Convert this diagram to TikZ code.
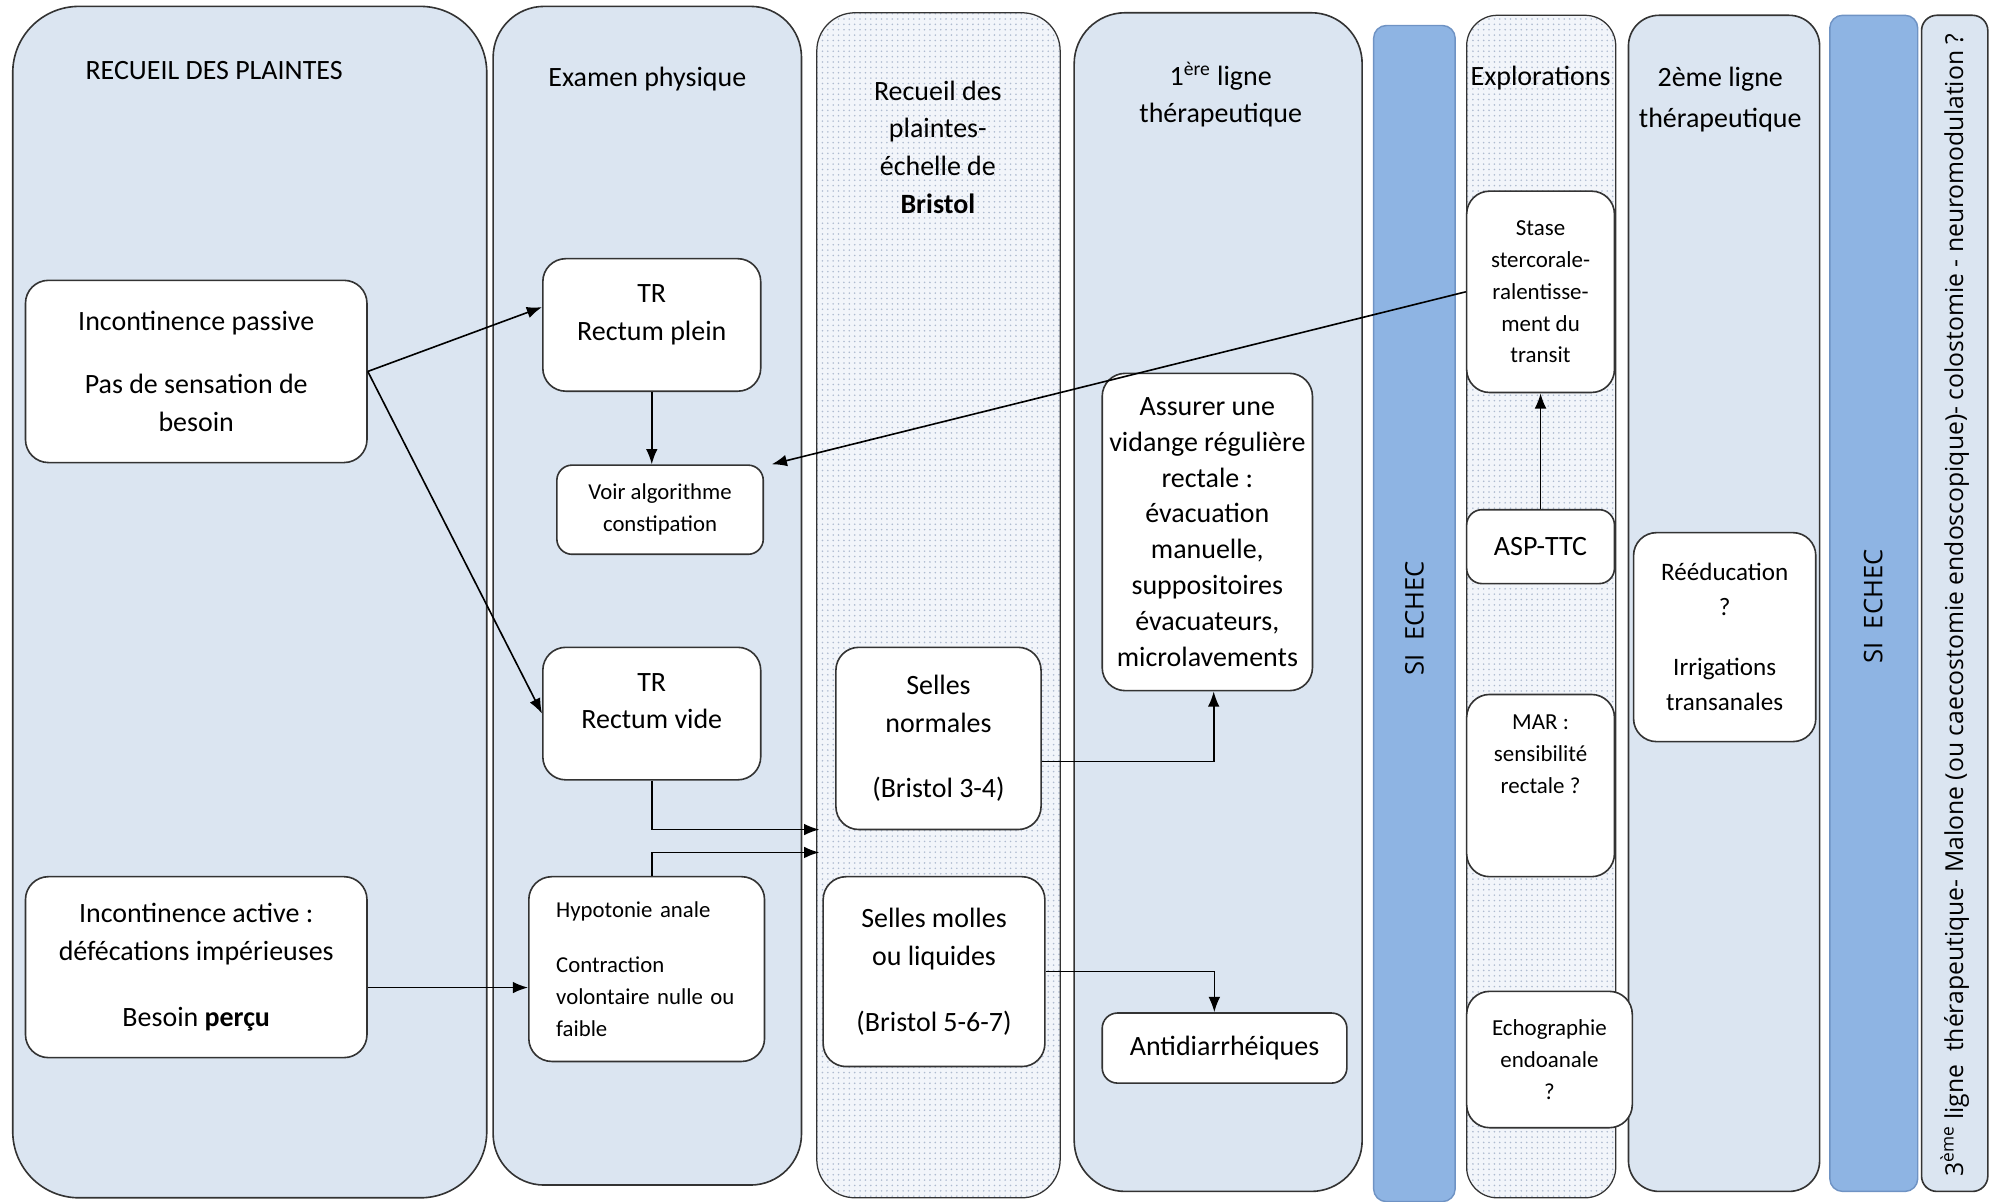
\documentclass[tikz,border=0pt]{standalone}
\usepackage{fontspec}
\setmainfont{Carlito}
\newfontfamily\osans{Open Sans}
\usepackage{tikz}
\usetikzlibrary{arrows.meta,positioning,calc,patterns}
\definecolor{colfill}{HTML}{DBE5F1}
\definecolor{dotfill}{HTML}{F2F5FA}
\definecolor{dotink}{HTML}{AEBBD0}
\definecolor{barfill}{HTML}{8EB4E3}
\definecolor{barline}{HTML}{6F93C4}
\definecolor{edge}{HTML}{333333}
\newcommand{\mainsize}{\fontsize{15.6}{21}\selectfont}
\newcommand{\smallsize}{\fontsize{12.7}{18}\selectfont}
\newcommand{\tinysize}{\fontsize{12.8}{17.8}\selectfont}

\begin{document}
\begin{tikzpicture}[x=0.025cm, y=-0.025cm,
    column/.style={draw=edge, line width=0.9pt, fill=colfill},
    dotcolumn/.style={draw=edge, line width=0.7pt, preaction={fill=dotfill}, pattern=dots, pattern color=dotink},
    bar/.style={draw=barline, line width=0.8pt, fill=barfill, rounded corners=0.25cm},
    box/.style={draw=edge, line width=0.9pt, fill=white, rounded corners=0.45cm, align=center, inner sep=2pt, font=\mainsize},
    wh/.style 2 args={minimum width=#1*0.025cm, minimum height=#2*0.025cm},
    head/.style={align=center, font=\mainsize},
    arr/.style={-{Latex[length=8.5pt,width=6.5pt]}, line width=0.9pt, black}]
    \useasboundingbox (0,0) rectangle (1568,943);
    % columns
    \draw[column, rounded corners=1.3cm] (10,5) rectangle (382,940);
    \draw[column, rounded corners=1cm] (387,5) rectangle (629,930);
    \draw[dotcolumn, rounded corners=0.75cm] (641,10) rectangle (832,940);
    \draw[column, rounded corners=1cm] (843,10) rectangle (1069,935);
    \draw[bar] (1078,20) rectangle (1142,943);
    \draw[dotcolumn, rounded corners=0.6cm] (1151,12) rectangle (1268,940);
    \draw[column, rounded corners=0.6cm] (1278,12) rectangle (1428,935);
    \draw[bar] (1436,12) rectangle (1505,935);
    \draw[column, rounded corners=0.3cm] (1508,12) rectangle (1560,935);
    % headers
    \node[head] (h1) at (168,55) {RECUEIL DES PLAINTES};
    \node[head] (h2) at (508,62) {Examen physique};
    \node[head] (h3) at (736,115.5) {Recueil des\\plaintes-\\échelle de\\\textbf{Bristol}};
    \node[head] (h4) at (958,74.5) {1\textsuperscript{ère} ligne\\thérapeutique};
    \node[head] (h5) at (1209,61) {Explorations};
    \node[head, font=\fontsize{15.6}{22.7}\selectfont] (h6) at (1350,78) {2ème ligne\\thérapeutique};
    \node[rotate=90, font=\osans\fontsize{14.3}{16}\selectfont] (echec1) at (1110,485) {SI\ \ ECHEC};
    \node[rotate=90, font=\osans\fontsize{14.3}{16}\selectfont] (echec2) at (1470,476) {SI\ \ ECHEC};
    \node[rotate=90, font=\osans\fontsize{13.8}{16}\selectfont] (third) at (1534,475) {3\textsuperscript{ème} ligne\ \ thérapeutique- Malone (ou caecostomie endoscopique)- colostomie - neuromodulation ?};
    % boxes
    \node[box, wh={268}{143}] (passive) at (154,291.5) {Incontinence passive\\[0.5cm]Pas de sensation de\\besoin};
    \node[box, wh={268}{142}] (active) at (154,759) {Incontinence active :\\défécations impérieuses\\[0.55cm]Besoin \textbf{perçu}};
    \node[box, wh={171}{104}] (plein) at (511.5,255) {TR\\Rectum plein\\[-0.25cm]\mbox{}};
    \node[box, wh={162}{70}, font=\smallsize, rounded corners=0.3cm] (voir) at (518,400) {Voir algorithme\\constipation};
    \node[box, wh={171}{104}] (vide) at (511.5,560) {TR\\Rectum vide\\[-0.25cm]\mbox{}};
    \node[box, wh={185}{145}, font=\smallsize, align=left, text width=3.55cm] (hypo) at (507.5,760.5) {Hypotonie anale\\[0.45cm]Contraction\\volontaire nulle ou\\faible};
    \node[box, wh={161}{143}] (normales) at (736.5,579.5) {Selles\\normales\\[0.55cm](Bristol 3-4)};
    \node[box, wh={174}{149}] (molles) at (733,762.5) {Selles molles\\ou liquides\\[0.55cm](Bristol 5-6-7)};
    \node[box, wh={165}{249}, font=\fontsize{15.6}{20}\selectfont] (vidange) at (947.5,417.5) {Assurer une\\vidange régulière\\rectale :\\évacuation\\manuelle,\\suppositoires\\évacuateurs,\\microlavements};
    \node[box, wh={192}{55}, rounded corners=0.3cm] (antidiar) at (961,822.5) {Antidiarrhéiques};
    \node[box, wh={116}{158}, font=\tinysize] (stase) at (1209,229) {Stase\\stercorale-\\ralentisse-\\ment du\\transit};
    \node[box, wh={116}{58}, rounded corners=0.3cm] (asp) at (1209,429) {ASP-TTC};
    \node[box, wh={116}{143}, font=\tinysize] (mar) at (1209,616.5) {MAR :\\sensibilité\\rectale ?\\[0.6cm]\mbox{}};
    \node[box, wh={130}{107}, font=\tinysize] (echo) at (1216,831.5) {Echographie\\endoanale\\?};
    \node[box, wh={143}{164}, font=\fontsize{14}{19.5}\selectfont] (reeduc) at (1353.5,500) {Rééducation\\?\\[0.5cm]Irrigations\\transanales};
    % connectors
    \draw[arr] (passive.east) -- ($(plein.west)+(0,-14)$);
    \draw[arr] (passive.east) -- (vide.west);
    \draw[arr] (plein.south) -- (plein.south |- voir.north);
    \draw[arr] (stase.west) -- ($(voir.north east)+(6,0)$);
    \coordinate (inA) at (643,651);
    \coordinate (inB) at (643,669);
    \draw[arr] (vide.south) |- (inA);
    \draw[arr] (hypo.north -| vide.south) |- (inB);
    \coordinate (aout) at ($(active.east)+(0,16)$);
    \draw[arr] (aout) -- (aout -| hypo.west);
    \coordinate (nout) at ($(normales.east)+(0,18)$);
    \draw[arr] (nout) -| ($(vidange.south)+(5,0)$);
    \draw[arr] (molles.east) -| ($(antidiar.north)+(-8,0)$);
    \draw[arr] (asp.north) -- (stase.south);
\end{tikzpicture}
\end{document}
